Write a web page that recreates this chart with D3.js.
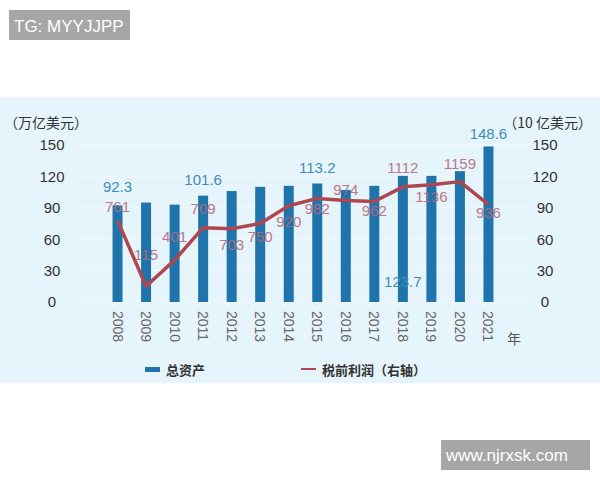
<!DOCTYPE html>
<html><head><meta charset="utf-8">
<script src="https://cdn.jsdelivr.net/npm/d3@7"></script>
<style>body{margin:0;background:#fff}svg{display:block;font-family:"Noto Sans CJK SC","Liberation Sans",sans-serif}</style>
</head><body><svg id="c" width="600" height="480"></svg>
<script>
const years = ['2008','2009','2010','2011','2012','2013','2014','2015','2016','2017','2018','2019','2020','2021']
const assets = [92.3, 95, 93, 101.6, 106, 110, 111, 113.2, 107, 111, 120.5, 120.5, 125, 148.6]
const profit = [78, 15, 40, 71, 70, 75, 92, 99, 97, 96, 110, 112, 115, 93]
const assetLabels = ['92.3', '', '', '101.6', '', '', '', '113.2', '', '', '123.7', '', '', '148.6']
const profitLabels = ['761', '115', '401', '709', '703', '750', '920', '982', '974', '962', '1112', '1136', '1159', '936']
// label anchor values (left-axis units)
const assetLabelAt = [105, 0, 0, 112, 0, 0, 0, 123, 0, 0, 14, 0, 0, 156]
const profitLabelAt = [86, 40, 57, 84, 50, 57, 72, 84, 102, 82, 123, 96, 127, 80]
const ticks = [0, 30, 60, 90, 120, 150]

const svg = d3.select('#c')
svg.append('rect').attr('x', 0).attr('y', 97).attr('width', 600).attr('height', 286).attr('fill', '#e6f4fb')

const x = d3.scaleBand().domain(years).range([94, 512]).padding(0.65)
const y = d3.scaleLinear().domain([0, 150]).range([302, 145])

ticks.forEach(t => {
    svg.append('line').attr('x1', 80).attr('x2', 530).attr('y1', y(t)).attr('y2', y(t))
        .attr('stroke', '#f2f9fd').attr('stroke-width', 1)
})

const axL = svg.append('g').attr('transform', 'translate(60,0)')
    .call(d3.axisLeft(y).tickValues(ticks).tickSize(0).tickPadding(0))
const axR = svg.append('g').attr('transform', 'translate(545,0)')
    .call(d3.axisRight(y).tickValues(ticks).tickSize(0).tickPadding(0))
;[axL, axR].forEach(a => {
    a.select('.domain').remove()
    a.selectAll('text').attr('font-size', 15).attr('fill', '#333').attr('font-family', 'Liberation Sans')
})
axR.selectAll('text').attr('text-anchor', 'middle').attr('dx', 0)
axL.selectAll('text').attr('text-anchor', 'middle').attr('dx', -8)

svg.append('text').attr('x', 4).attr('y', 128).attr('font-size', 14).attr('fill', '#333').text('（万亿美元）')
svg.append('text').attr('x', 592).attr('y', 128).attr('text-anchor', 'end').attr('font-size', 14).attr('fill', '#333').text('（10 亿美元）')

svg.selectAll('.bar').data(assets).enter().append('rect')
    .attr('x', (d, i) => x(years[i])).attr('width', x.bandwidth())
    .attr('y', d => y(d)).attr('height', d => y(0) - y(d)).attr('fill', '#1f74ab')

const line = d3.line().x((d, i) => x(years[i]) + x.bandwidth() / 2).y(d => y(d))
svg.append('path').datum(profit).attr('d', line).attr('fill', 'none')
    .attr('stroke', '#b0464f').attr('stroke-width', 3.5).attr('stroke-linejoin', 'round')

svg.selectAll('.al').data(assetLabels).enter().append('text')
    .attr('x', (d, i) => x(years[i]) + x.bandwidth() / 2).attr('y', (d, i) => y(assetLabelAt[i]))
    .attr('text-anchor', 'middle').attr('font-size', 15).attr('fill', '#3e8cb8')
    .attr('font-family', 'Liberation Sans').text(d => d)
svg.selectAll('.pl').data(profitLabels).enter().append('text')
    .attr('x', (d, i) => x(years[i]) + x.bandwidth() / 2).attr('y', (d, i) => y(profitLabelAt[i]))
    .attr('text-anchor', 'middle').attr('font-size', 15).attr('fill', '#b86a7a')
    .attr('font-family', 'Liberation Sans').attr('opacity', 0.9).text(d => d)

svg.selectAll('.yr').data(years).enter().append('text')
    .attr('transform', d => `translate(${x(d) + x.bandwidth() / 2 - 5},311) rotate(90)`)
    .attr('font-size', 14).attr('fill', '#666').attr('font-family', 'Liberation Sans').text(d => d)
svg.append('text').attr('x', 507).attr('y', 344).attr('font-size', 14).attr('fill', '#555').text('年')

svg.append('rect').attr('x', 145).attr('y', 367).attr('width', 15).attr('height', 5).attr('fill', '#1f74ab')
svg.append('text').attr('x', 166).attr('y', 375).attr('font-size', 13).attr('font-weight', 'bold').attr('fill', '#333').text('总资产')
svg.append('rect').attr('x', 301).attr('y', 368).attr('width', 15).attr('height', 2).attr('fill', '#b0464f')
svg.append('text').attr('x', 322).attr('y', 375).attr('font-size', 13).attr('font-weight', 'bold').attr('fill', '#333').text('税前利润（右轴）')

svg.append('rect').attr('x', 9).attr('y', 10).attr('width', 121).attr('height', 30).attr('fill', '#a6a6a6')
svg.append('text').attr('x', 14).attr('y', 32).attr('font-size', 17).attr('fill', '#fff').attr('font-family', 'Liberation Sans').text('TG: MYYJJPP')
svg.append('rect').attr('x', 441).attr('y', 440).attr('width', 149).attr('height', 30).attr('fill', '#a6a6a6')
svg.append('text').attr('x', 446).attr('y', 461).attr('font-size', 17).attr('fill', '#fff').attr('font-family', 'Liberation Sans').text('www.njrxsk.com')
</script></body></html>
